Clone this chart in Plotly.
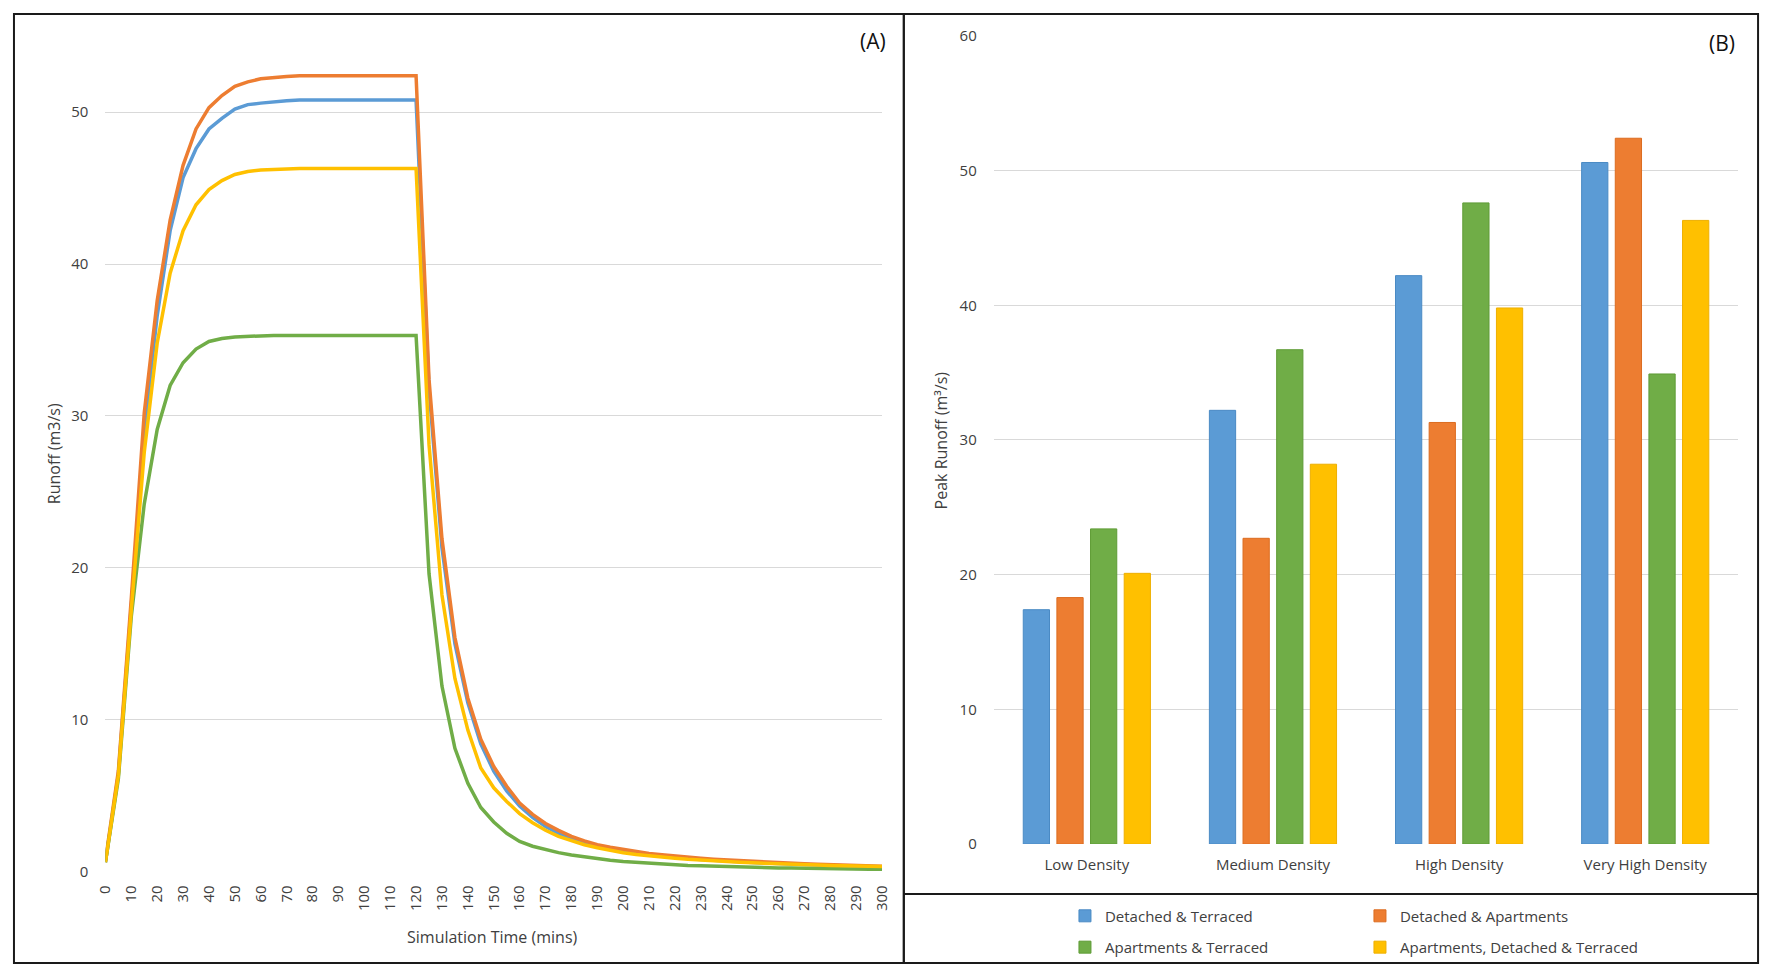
import plotly.graph_objects as go

W, H = 1772, 976

# simulation time (mins), one reading every 5 minutes
sim_time = list(range(0, 301, 5))

# runoff (m3/s) per scenario
runoff_det_terr = [0.6, 6.4, 17.5, 29.0, 36.6, 42.2, 45.7, 47.6, 48.9, 49.6, 50.2, 50.5, 50.6, 50.7, 50.75,
                   50.8, 50.8, 50.8, 50.8, 50.8, 50.8, 50.8, 50.8, 50.8, 50.8,
                   31.8, 21.3, 15.0, 11.1, 8.4, 6.6, 5.3, 4.3, 3.55, 2.95, 2.5, 2.15, 1.85, 1.6, 1.45, 1.3,
                   1.18, 1.08, 0.99, 0.91, 0.84, 0.78, 0.72, 0.67, 0.62, 0.58, 0.54, 0.5, 0.47, 0.44,
                   0.41, 0.38, 0.36, 0.33, 0.31, 0.29]
runoff_det_apt = [0.7, 6.6, 18.0, 30.2, 37.6, 42.9, 46.5, 48.9, 50.3, 51.1, 51.7, 52.0, 52.2, 52.3, 52.35,
                  52.4, 52.4, 52.4, 52.4, 52.4, 52.4, 52.4, 52.4, 52.4, 52.4,
                  32.4, 21.9, 15.4, 11.4, 8.7, 6.9, 5.6, 4.5, 3.75, 3.15, 2.7, 2.3, 2.0, 1.75, 1.58, 1.43,
                  1.3, 1.18, 1.09, 1.0, 0.93, 0.86, 0.8, 0.75, 0.69, 0.64, 0.6, 0.56, 0.52, 0.49,
                  0.46, 0.43, 0.4, 0.38, 0.36, 0.34]
runoff_apt_terr = [0.6, 6.1, 16.8, 24.2, 29.1, 32.0, 33.5, 34.4, 34.9, 35.1, 35.2, 35.25, 35.3, 35.3, 35.3,
                   35.3, 35.3, 35.3, 35.3, 35.3, 35.3, 35.3, 35.3, 35.3, 35.3,
                   19.6, 12.2, 8.1, 5.8, 4.2, 3.25, 2.5, 1.97, 1.65, 1.43, 1.23, 1.07, 0.94, 0.83, 0.73, 0.64,
                   0.58, 0.52, 0.47, 0.43, 0.39, 0.36, 0.33, 0.3, 0.28, 0.26, 0.24, 0.22, 0.21, 0.19,
                   0.18, 0.17, 0.16, 0.15, 0.14, 0.13]
runoff_apt_det_terr = [0.6, 6.3, 17.2, 27.6, 34.8, 39.4, 42.2, 43.9, 44.9, 45.5, 45.9, 46.1, 46.2, 46.25, 46.3,
                       46.3, 46.3, 46.3, 46.3, 46.3, 46.3, 46.3, 46.3, 46.3, 46.3,
                       28.1, 18.2, 12.7, 9.3, 6.8, 5.5, 4.6, 3.8, 3.2, 2.7, 2.3, 2.0, 1.75, 1.55, 1.38, 1.22,
                       1.11, 1.01, 0.93, 0.86, 0.79, 0.73, 0.68, 0.63, 0.6, 0.56, 0.52, 0.49, 0.46, 0.43,
                       0.41, 0.38, 0.36, 0.34, 0.33, 0.32]

# panel (B): peak runoff (m3/s)
densities = ["Low Density", "Medium Density", "High Density", "Very High Density"]
peak_det_terr = [17.4, 32.2, 42.2, 50.6]
peak_det_apt = [18.3, 22.7, 31.3, 52.4]
peak_apt_terr = [23.4, 36.7, 47.6, 34.9]
peak_apt_det_terr = [20.1, 28.2, 39.8, 46.3]

names = ["Detached & Terraced", "Detached & Apartments", "Apartments & Terraced",
         "Apartments, Detached & Terraced"]
colors = ["#5B9BD5", "#ED7D31", "#70AD47", "#FFC000"]
edges = ["#4A8AC4", "#DC6C20", "#5F9C36", "#EEAF00"]

FONT = "Open Sans, Noto Sans, sans-serif"
TXT = "#404040"


def px(x):
    return x / W


def py(y):
    return 1 - y / H


fig = go.Figure()

line_series = [runoff_det_terr, runoff_det_apt, runoff_apt_terr, runoff_apt_det_terr]
for name, vals, c in zip(names, line_series, colors):
    fig.add_trace(go.Scatter(x=sim_time, y=vals, mode="lines", name=name,
                             line=dict(color=c, width=3.5), showlegend=False,
                             xaxis="x", yaxis="y"))

bar_series = [peak_det_terr, peak_det_apt, peak_apt_terr, peak_apt_det_terr]
legend_ids = ["legend", "legend", "legend2", "legend2"]
for name, vals, c, e, lg in zip(names, bar_series, colors, edges, legend_ids):
    fig.add_trace(go.Bar(x=densities, y=vals, name=name, marker=dict(color=c, line=dict(color=e, width=1)),
                         xaxis="x2", yaxis="y2", legend=lg))

grid = "#D9D9D9"

fig.update_layout(
    width=W, height=H,
    margin=dict(l=0, r=0, t=0, b=0),
    paper_bgcolor="white", plot_bgcolor="white",
    font=dict(family=FONT, size=15, color=TXT),
    barmode="group", bargap=0.277, bargroupgap=0.22,
    xaxis=dict(domain=[px(95.5), px(881)], range=[0, 300], tickvals=list(range(0, 301, 10)),
               tickangle=-90, showgrid=False, zeroline=False, showline=False, ticks="",
               ticklabelstandoff=10, tickfont=dict(size=15, color=TXT)),
    yaxis=dict(domain=[py(878.3), py(15)], range=[0, 55.7], tickvals=[0, 10, 20, 30, 40, 50],
               showgrid=True, gridcolor=grid, gridwidth=1.3, zeroline=False, showline=False, ticks="",
               ticklabelstandoff=16, tickfont=dict(size=15, color=TXT)),
    xaxis2=dict(domain=[px(994), px(1747)], anchor="y2", showgrid=False, zeroline=False,
                showline=False, ticks="", ticklabelstandoff=10, tickfont=dict(size=15, color=TXT)),
    yaxis2=dict(domain=[py(850.5), py(25.4)], anchor="x2", range=[0, 60], dtick=10,
                showgrid=True, gridcolor=grid, gridwidth=1.3, zeroline=False, showline=False, ticks="",
                ticklabelstandoff=16, tickfont=dict(size=15, color=TXT)),
    legend=dict(orientation="h", x=px(1066), xanchor="left", y=py(924), yanchor="middle",
                entrywidth=250, font=dict(size=15, color=TXT), itemclick=False, bgcolor="rgba(0,0,0,0)"),
    legend2=dict(orientation="h", x=px(1066), xanchor="left", y=py(956), yanchor="middle",
                 entrywidth=250, font=dict(size=15, color=TXT), itemclick=False, bgcolor="rgba(0,0,0,0)"),
)

# axis titles placed where the original has them
fig.add_annotation(text="Runoff (m3/s)", xref="paper", yref="paper", x=px(43.5), y=py(452.5),
                   xanchor="center", yanchor="middle", textangle=-90, showarrow=False,
                   font=dict(size=16, color=TXT))
fig.add_annotation(text="Simulation Time (mins)", xref="paper", yref="paper", x=px(487), y=py(945),
                   xanchor="center", yanchor="middle", showarrow=False, font=dict(size=16, color=TXT))
fig.add_annotation(text="Peak Runoff (m³/s)", xref="paper", yref="paper", x=px(941), y=py(438),
                   xanchor="center", yanchor="middle", textangle=-90, showarrow=False,
                   font=dict(size=16, color=TXT))

# panel frames and the divider above the legend
border = dict(color="#1A1A1A", width=2)
fig.add_shape(type="rect", xref="paper", yref="paper", x0=px(3), x1=px(903), y0=py(972), y1=py(3), line=border)
fig.add_shape(type="rect", xref="paper", yref="paper", x0=px(903), x1=px(1767), y0=py(972), y1=py(3), line=border)
fig.add_shape(type="line", xref="paper", yref="paper", x0=px(903), x1=px(1767), y0=py(901.5), y1=py(901.5),
              line=border)

fig.add_annotation(text="(A)", xref="paper", yref="paper", x=px(887), y=py(31), xanchor="right",
                   yanchor="middle", showarrow=False, font=dict(size=21, color="#111111"))
fig.add_annotation(text="(B)", xref="paper", yref="paper", x=px(1753), y=py(33), xanchor="right",
                   yanchor="middle", showarrow=False, font=dict(size=21, color="#111111"),
                   bgcolor="white", borderpad=8)

fig.write_html("out.html", config={"displayModeBar": False},
               post_script="document.body.style.margin='0';document.body.style.overflow='hidden';")
